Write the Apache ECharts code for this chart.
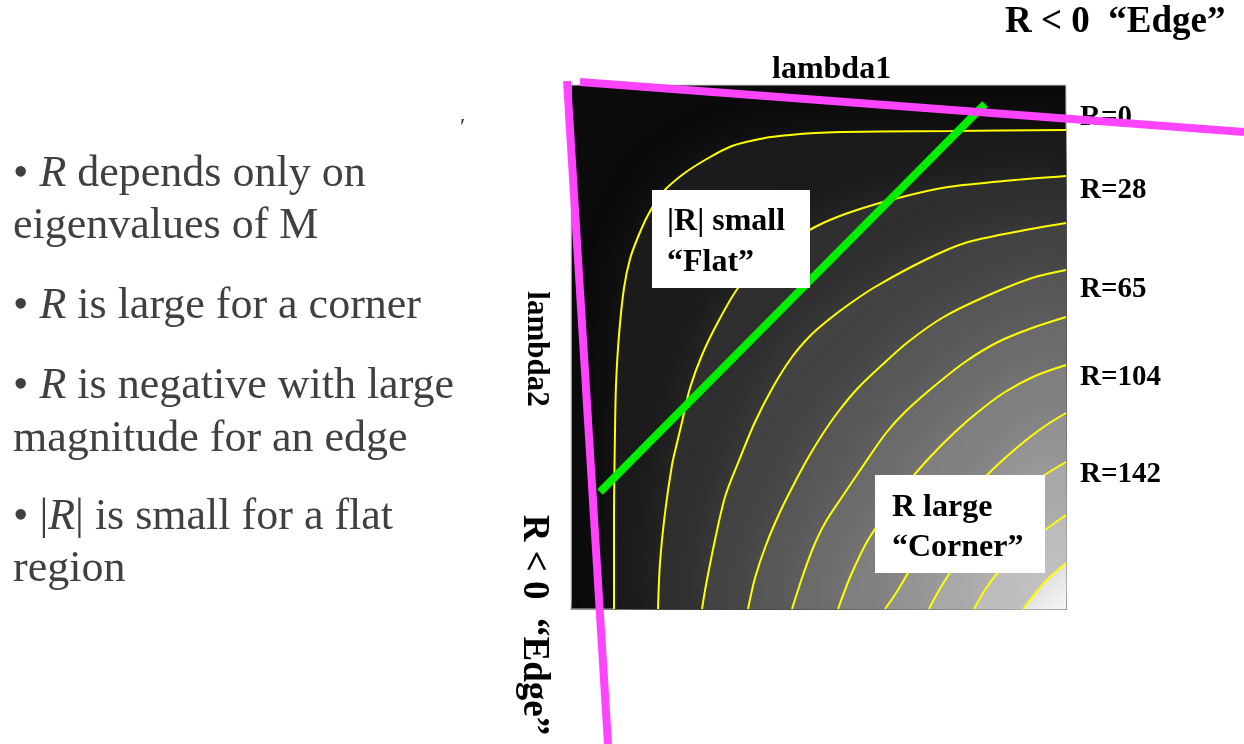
<!DOCTYPE html>
<html>
<head>
<meta charset="utf-8">
<script src="https://cdn.jsdelivr.net/npm/echarts@6/dist/echarts.min.js"></script>
<style>
  html, body { margin: 0; padding: 0; background: #fff; }
  #main { width: 1244px; height: 744px; }
</style>
</head>
<body>
<div id="main"></div>
<script>
// R contour lines over (lambda1, lambda2), [lambda1, lambda2]
const contour1 = [[4.95,0.45],[3.80,0.46],[3.10,0.465],[2.70,0.47],[2.44,0.48],[2.19,0.50],[1.94,0.53],[1.61,0.61],[1.34,0.75],[1.11,0.90],[0.91,1.08],[0.77,1.30],[0.67,1.52],[0.59,1.74],[0.53,2.03],[0.48,2.50],[0.45,3.00],[0.44,3.47],[0.43,4.35],[0.43,5.24]]
const contour2 = [[4.95,0.91],[4.44,0.95],[3.77,1.02],[3.27,1.13],[2.77,1.28],[2.44,1.42],[2.17,1.59],[1.89,1.80],[1.67,2.03],[1.47,2.37],[1.31,2.70],[1.19,3.03],[1.11,3.37],[1.06,3.58],[1.01,3.80],[0.94,4.28],[0.89,4.78],[0.87,5.24]]
const contour3 = [[4.95,1.38],[4.44,1.47],[3.94,1.58],[3.54,1.75],[3.04,2.02],[2.77,2.20],[2.56,2.36],[2.39,2.51],[2.21,2.72],[2.02,3.02],[1.84,3.37],[1.67,3.78],[1.54,4.12],[1.44,4.55],[1.35,5.00],[1.31,5.24]]
const contour4 = [[4.95,1.85],[4.61,1.93],[4.11,2.13],[3.71,2.33],[3.37,2.57],[3.11,2.80],[2.87,3.03],[2.67,3.27],[2.51,3.50],[2.37,3.73],[2.24,3.97],[2.09,4.27],[1.95,4.60],[1.84,4.93],[1.77,5.24]]
const contour5 = [[4.95,2.32],[4.61,2.43],[4.27,2.57],[3.94,2.77],[3.61,3.03],[3.34,3.27],[3.15,3.48],[2.94,3.78],[2.71,4.12],[2.54,4.38],[2.42,4.63],[2.31,4.93],[2.21,5.24]]
const contour6 = [[4.95,2.80],[4.64,2.91],[4.34,3.07],[4.07,3.27],[3.84,3.47],[3.61,3.70],[3.39,3.95],[3.19,4.23],[2.97,4.55],[2.80,4.90],[2.67,5.24]]
const contour7 = [[4.95,3.28],[4.77,3.39],[4.59,3.52],[4.34,3.73],[4.11,3.95],[3.87,4.21],[3.65,4.47],[3.45,4.75],[3.27,5.05],[3.14,5.24]]
const contour8 = [[4.95,3.77],[4.72,3.91],[4.49,4.08],[4.26,4.29],[4.04,4.53],[3.84,4.80],[3.67,5.07],[3.58,5.24]]
const contour9 = [[4.95,4.30],[4.74,4.45],[4.51,4.63],[4.29,4.85],[4.14,5.05],[4.03,5.24]]
const contour10 = [[4.95,4.78],[4.74,4.97],[4.52,5.24]]
const contours = [contour1, contour2, contour3, contour4, contour5, contour6, contour7, contour8, contour9, contour10]

// grey level just past each contour (the band shading fades toward the next one)
const bandGrey = ['#1b1b1b', '#2f2f2f', '#434343', '#575757', '#6b6b6b', '#7f7f7f', '#939393', '#a8a8a8', '#bcbcbc', '#d0d0d0']

const levelLabels = ['R=0', 'R=28', 'R=65', 'R=104', 'R=142']

// hand drawn guide lines, in the same lambda units
const edgeLineTop = [[0.09,-0.03],[6.73,0.47]]
const edgeLineLeft = [[-0.04,-0.04],[0.37,6.59]]
const flatLine = [[0.29,4.07],[4.14,0.19]]

const bullets = [
  '• {i|R} depends only on',
  'eigenvalues of M',
  '• {i|R} is large for a corner',
  '• {i|R} is negative with large',
  'magnitude for an edge',
  '• |{i|R}| is small for a flat',
  'region'
]

const serif = '"Liberation Serif", "Times New Roman", serif'
const chart = echarts.init(document.getElementById('main'))

const series = contours.map((c, i) => {
  const last = i === contours.length - 1
  return {
    type: 'line',
    data: c,
    smooth: 0.3,
    symbol: 'none',
    silent: true,
    lineStyle: { color: '#ffff00', width: 2 },
    areaStyle: {
      color: last
        ? new echarts.graphic.LinearGradient(0, 0, 1, 1, [
            { offset: 0, color: bandGrey[i] },
            { offset: 1, color: '#f6f6f6' }
          ])
        : bandGrey[i],
      opacity: 1,
      origin: 'end',
      shadowBlur: 42,
      shadowColor: bandGrey[i]
    }
  }
})

// straight guide lines, drawn past the plot edges
function guide(pts, color, z) {
  return {
    type: 'custom',
    clip: false,
    silent: true,
    z: z,
    data: [[pts[0][0], pts[0][1], pts[1][0], pts[1][1]]],
    renderItem: (params, api) => {
      const a = api.coord([api.value(0), api.value(1)])
      const b = api.coord([api.value(2), api.value(3)])
      return {
        type: 'line',
        shape: { x1: a[0], y1: a[1], x2: b[0], y2: b[1] },
        style: { stroke: color, lineWidth: 8, lineCap: 'butt' }
      }
    }
  }
}
series.push(guide(flatLine, '#00ee00', 5))
series.push(guide(edgeLineTop, '#ff44ff', 20))
series.push(guide(edgeLineLeft, '#ff44ff', 20))

const bulletY = [189, 241, 321, 401, 454, 532, 584]
const graphic = bullets.map((t, i) => ({
  type: 'text',
  x: 13,
  y: bulletY[i] - 15,
  z: 10,
  style: {
    text: t,
    font: '44px ' + serif,
    fill: '#404040',
    textVerticalAlign: 'middle',
    verticalAlign: 'middle',
    rich: { i: { font: 'italic 44px ' + serif, fill: '#404040' } }
  }
}))

const labelY = [118, 191, 290, 378, 475]
levelLabels.forEach((t, i) => {
  graphic.push({
    type: 'text', x: 1080, y: labelY[i], z: 10,
    style: { text: t, font: 'bold 29px ' + serif, fill: '#000', textVerticalAlign: 'middle', verticalAlign: 'middle' }
  })
})

function boldText(t, x, y, size, rotated) {
  const el = {
    type: 'text', x: x, y: y, z: 12,
    style: { text: t, font: 'bold ' + size + 'px ' + serif, fill: '#000', textVerticalAlign: 'middle', verticalAlign: 'middle' }
  }
  if (rotated) {
    el.rotation = -Math.PI / 2
    el.style.align = 'center'
    el.style.textAlign = 'center'
  }
  return el
}

graphic.push(
  { type: 'text', x: 460, y: 116, z: 10, style: { text: '′', font: '24px ' + serif, fill: '#333' } },
  boldText('lambda1', 772, 70, 32),
  boldText('R < 0  “Edge”', 1005, 22, 37),
  boldText('lambda2', 536, 349, 31, true),
  boldText('R < 0  “Edge”', 534, 625, 37, true),
  { type: 'rect', z: 11, shape: { x: 652, y: 190, width: 158, height: 98 }, style: { fill: '#fff' } },
  boldText('|R| small', 667, 222, 32),
  boldText('“Flat”', 667, 263, 32),
  { type: 'rect', z: 11, shape: { x: 875, y: 475, width: 170, height: 98 }, style: { fill: '#fff' } },
  boldText('R large', 892, 508, 32),
  boldText('“Corner”', 892, 548, 32)
)

chart.setOption({
  animation: false,
  backgroundColor: '#fff',
  grid: {
    left: 571, top: 85, width: 495, height: 524,
    show: true, backgroundColor: '#0b0b0b', borderColor: '#d0d0d0', borderWidth: 1
  },
  xAxis: {
    type: 'value', min: 0, max: 4.95, interval: 1,
    axisLine: { show: true, onZero: false, lineStyle: { color: '#999' } },
    axisTick: { show: true, inside: true, length: 6, lineStyle: { color: '#777' } },
    axisLabel: { show: false },
    splitLine: { show: false }
  },
  yAxis: {
    type: 'value', inverse: true, min: 0, max: 5.24, interval: 1,
    axisLine: { show: true, onZero: false, lineStyle: { color: '#999' } },
    axisTick: { show: false },
    axisLabel: { show: false },
    splitLine: { show: false }
  },
  series: series,
  graphic: graphic
})
</script>
</body>
</html>
